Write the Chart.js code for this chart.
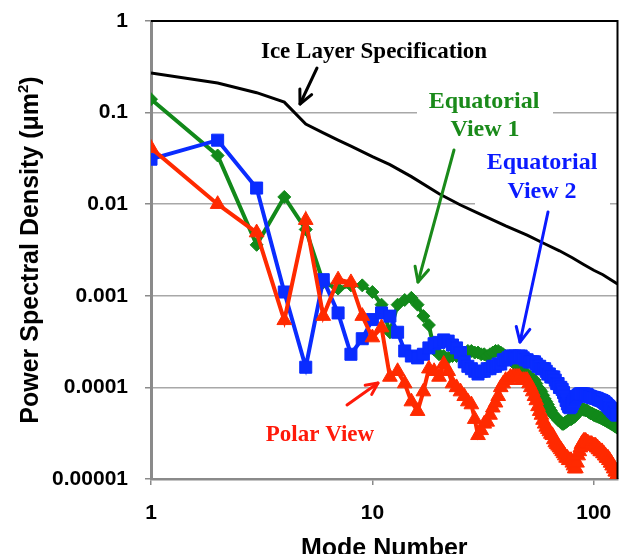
<!DOCTYPE html>
<html><head><meta charset="utf-8">
<script src="https://cdn.jsdelivr.net/npm/chart.js@4"></script>
<style>html,body{margin:0;padding:0;background:#fff}</style>
</head><body>
<canvas id="c" width="627" height="554"></canvas>
<script>
const modes = [1,2,3,4,5,6,7,8,9,10,11,12,13,14,15,16,17,18,19,20,21,22,23,24,25,26,27,28,29,30,31,32,33,34,35,36,37,38,39,40,41,42,43,44,45,46,47,48,49,50,51,52,53,54,55,56,57,58,59,60,61,62,63,64,65,66,67,68,69,70,71,72,73,74,75,76,77,78,79,80,81,82,83,84,85,86,87,88,89,90,91,92,93,94,95,96,97,98,99,100,101,102,103,104,105,106,107,108,109,110,111,112,113,114,115,116,117,118,119,120,121,122,123,124,125,126,127,128];

const equatorialView1 = [0.14,0.034,0.0036,0.012,0.0053,0.0014,0.0012,0.0013,0.0013,0.0011,
0.0008,0.0004,0.0008,0.0009,0.00095,0.0008,0.0006,0.00048,0.00026,0.00023,
0.00022,0.00021,0.00022,0.00022,0.00023,0.00024,0.00025,0.00025,0.00024,0.00024,
0.00023,0.00023,0.00022,0.00023,0.00024,0.00025,0.00025,0.00024,0.00023,0.00022,
0.00021,0.0002,0.00019,0.00018,0.00017,0.00016,0.00015,0.00015,0.00014,0.00014,
0.00013,0.00013,0.00012,0.00012,0.00011,0.0001,0.000095,0.00009,0.000082,0.000075,
0.00007,0.000065,0.00006,0.000056,0.000052,0.00005,0.000048,0.000046,0.000044,0.000043,
0.000042,0.00004,0.00004,0.000041,0.000042,0.000043,0.000044,0.000045,0.000045,0.000046,
0.000047,0.000048,0.00005,0.000052,0.000054,0.000056,0.000057,0.000058,0.000058,0.000057,
0.000057,0.000056,0.000056,0.000055,0.000054,0.000053,0.000052,0.000052,0.000051,0.00005,
0.00005,0.000049,0.000049,0.000048,0.000048,0.000047,0.000047,0.000046,0.000046,0.000045,
0.000045,0.000044,0.000044,0.000043,0.000043,0.000042,0.000042,0.000041,0.000041,0.00004,
0.00004,0.000039,0.000039,0.000038,0.000038,0.000037,0.000037,0.000036];

const equatorialView2 = [0.031,0.05,0.015,0.0011,0.000166,0.0015,0.00065,0.00023,0.00034,0.00055,
0.00065,0.0006,0.0004,0.00025,0.00022,0.00021,0.00023,0.00027,0.0003,0.00031,
0.00033,0.00032,0.00029,0.00027,0.00024,0.00019,0.00017,0.00016,0.00015,0.00014,
0.00015,0.00015,0.00016,0.00016,0.00017,0.00017,0.00018,0.00018,0.0002,0.0002,
0.00021,0.00022,0.00022,0.00022,0.00021,0.00022,0.00022,0.00021,0.0002,0.0002,
0.00019,0.00019,0.00019,0.00019,0.00018,0.00017,0.00017,0.00016,0.00016,0.00016,
0.00015,0.00014,0.00014,0.00013,0.00013,0.00013,0.00012,0.00011,0.00011,0.0001,
0.0001,0.000095,0.000088,0.00008,0.000072,0.000066,0.000062,0.00006,0.000062,0.000066,
0.00007,0.000074,0.000078,0.00008,0.000082,0.000084,0.000085,0.000085,0.000084,0.000085,
0.000084,0.000083,0.000084,0.000082,0.00008,0.00008,0.000079,0.000078,0.000078,0.000077,
0.000077,0.000076,0.000076,0.000075,0.000074,0.000073,0.000073,0.000072,0.000072,0.00007,
0.00007,0.000068,0.000067,0.000066,0.000064,0.000063,0.000062,0.00006,0.000059,0.000058,
0.000056,0.000055,0.000054,0.000053,0.000052,0.000051,0.00005,0.00005];

const polarView = [0.041,0.01,0.0049,0.00054,0.0067,0.0006,0.0015,0.0014,0.0006,0.00035,
0.00045,0.00013,0.00015,0.00011,0.00007,0.000055,0.00009,0.00016,0.00015,0.00013,
0.00018,0.00015,0.00011,0.0001,0.00009,0.00008,0.00007,0.000065,0.000045,0.00003,
0.000034,0.00004,0.000042,0.00005,0.00006,0.000068,0.00008,0.0001,0.00011,0.00012,
0.00012,0.00013,0.00013,0.00013,0.00013,0.00013,0.00012,0.00012,0.00012,0.00012,
0.00011,0.0001,0.00009,0.00008,0.000072,0.000062,0.000055,0.00005,0.000044,0.00004,
0.000037,0.000035,0.000033,0.000031,0.00003,0.000027,0.000025,0.000024,0.000023,0.000022,
0.000021,0.00002,0.000019,0.000018,0.000017,0.000017,0.000016,0.000016,0.000016,0.000015,
0.000014,0.000013,0.000013,0.000015,0.000018,0.00002,0.000022,0.000024,0.000025,0.000026,
0.000026,0.000026,0.000025,0.000025,0.000024,0.000024,0.000024,0.000024,0.000023,0.000023,
0.000023,0.000023,0.000022,0.000022,0.000021,0.000021,0.00002,0.00002,0.00002,0.000019,
0.000019,0.000018,0.000018,0.000017,0.000017,0.000017,0.000016,0.000016,0.000015,0.000015,
0.000014,0.000014,0.000013,0.000013,0.000012,0.000012,0.000011,0.000011];

const specModes  = [1,2,3,4,5,6,7,8,10,12,15,20,25,30,40,50,60,70,80,90,100,110,128];
const specValues = [0.27,0.21,0.165,0.13,0.075,0.06,0.05,0.043,0.033,0.027,0.02,0.013,0.0098,0.008,0.0058,0.0046,0.0037,0.0031,0.0026,0.0022,0.0019,0.0017,0.00135];

const xTickValues = [1,10,100];
const yTickValues = [1,0.1,0.01,0.001,0.0001,0.00001];
const yTickLabels = ['1','0.1','0.01','0.001','0.0001','0.00001'];

const GREEN = '#12891a', BLUE = '#0a2cff', RED = '#ff2a00';
const SANS = '"Liberation Sans", Arial, sans-serif';
const SERIF = '"Liberation Serif", "Times New Roman", serif';

const pts = (xs, ys) => xs.map((x, i) => ({x: x, y: ys[i]}));

function arrow(ctx, x1, y1, x2, y2, color, w, head) {
  const a = Math.atan2(y2 - y1, x2 - x1);
  ctx.save();
  ctx.strokeStyle = color; ctx.lineWidth = w; ctx.lineCap = 'round'; ctx.lineJoin = 'round';
  ctx.beginPath(); ctx.moveTo(x1, y1); ctx.lineTo(x2, y2); ctx.stroke();
  ctx.beginPath();
  ctx.moveTo(x2 - head * Math.cos(a - 0.45), y2 - head * Math.sin(a - 0.45));
  ctx.lineTo(x2, y2);
  ctx.lineTo(x2 - head * Math.cos(a + 0.45), y2 - head * Math.sin(a + 0.45));
  ctx.stroke();
  ctx.restore();
}

const decor = {
  id: 'decor',
  beforeDatasetsDraw(chart) {
    const ctx = chart.ctx;
    ctx.save();
    ctx.fillStyle = '#fff';
    ctx.fillRect(417, 88, 136, 55);
    ctx.fillRect(475, 149, 135, 57);
    ctx.restore();
  },
  afterDatasetsDraw(chart) {
    const ctx = chart.ctx, a = chart.chartArea;
    ctx.save();
    ctx.strokeStyle = '#000'; ctx.lineWidth = 2;
    ctx.beginPath(); ctx.moveTo(a.left, a.top); ctx.lineTo(a.right, a.top); ctx.lineTo(a.right, a.bottom); ctx.stroke();
    ctx.textAlign = 'center'; ctx.textBaseline = 'middle';
    ctx.font = 'bold 23px ' + SERIF;
    ctx.fillStyle = '#000';
    ctx.fillText('Ice Layer Specification', 374, 52);
    ctx.font = 'bold 24px ' + SERIF;
    ctx.fillStyle = '#1a8a1a';
    ctx.fillText('Equatorial', 484, 102);
    ctx.fillText('View 1', 485, 130);
    ctx.fillStyle = '#0a1aff';
    ctx.fillText('Equatorial', 542, 163);
    ctx.fillText('View 2', 542, 192);
    ctx.font = 'bold 23px ' + SERIF;
    ctx.fillStyle = '#ff1a0a';
    ctx.fillText('Polar View', 320, 435);
    arrow(ctx, 317, 68, 300, 104, '#000', 3, 15);
    arrow(ctx, 454, 150, 418, 282, '#1a8a1a', 3, 16);
    arrow(ctx, 548, 212, 520, 342, '#0a1aff', 3, 16);
    arrow(ctx, 347, 405, 378, 383, '#ff1a0a', 3, 13);
    ctx.fillStyle = '#000';
    ctx.font = 'bold 25px ' + SANS;
    ctx.textBaseline = 'alphabetic';
    ctx.fillText('Mode Number', (a.left + a.right) / 2, 556);
    ctx.translate(38, (a.top + a.bottom) / 2);
    ctx.rotate(-Math.PI / 2);
    const t1 = 'Power Spectral Density (\u03bcm', t2 = '2', t3 = ')';
    ctx.font = 'bold 25px ' + SANS;
    const w1 = ctx.measureText(t1).width, w3 = ctx.measureText(t3).width;
    ctx.font = 'bold 15px ' + SANS;
    const w2 = ctx.measureText(t2).width;
    const total = w1 + w2 + w3;
    ctx.textAlign = 'left';
    let x = -total / 2;
    ctx.font = 'bold 25px ' + SANS;
    ctx.fillText(t1, x, 0); x += w1;
    ctx.font = 'bold 15px ' + SANS;
    ctx.fillText(t2, x, -10); x += w2;
    ctx.font = 'bold 25px ' + SANS;
    ctx.fillText(t3, x, 0);
    ctx.restore();
  }
};

new Chart(document.getElementById('c'), {
  type: 'line',
  data: {
    datasets: [
      { label: 'Polar View', data: pts(modes, polarView), order: 0,
        borderColor: RED, backgroundColor: RED, borderWidth: 4,
        pointStyle: 'triangle', pointRadius: 8.5, pointBorderWidth: 1, pointBorderColor: RED, pointBackgroundColor: RED },
      { label: 'Equatorial View 2', data: pts(modes, equatorialView2), order: 1,
        borderColor: BLUE, backgroundColor: BLUE, borderWidth: 4,
        pointStyle: 'rect', pointRadius: 8.5, pointBorderWidth: 1, pointBorderColor: BLUE, pointBackgroundColor: BLUE },
      { label: 'Equatorial View 1', data: pts(modes, equatorialView1), order: 2,
        borderColor: GREEN, backgroundColor: GREEN, borderWidth: 4,
        pointStyle: 'rectRot', pointRadius: 6.5, pointBorderWidth: 1, pointBorderColor: GREEN, pointBackgroundColor: GREEN },
      { label: 'Ice Layer Specification', data: pts(specModes, specValues), order: 3,
        borderColor: '#000', borderWidth: 3, pointRadius: 0 }
    ]
  },
  options: {
    responsive: false,
    animation: false,
    devicePixelRatio: 1,
    layout: { padding: { left: 0, top: 21, right: 8, bottom: 0 } },
    plugins: { legend: { display: false }, tooltip: { enabled: false } },
    elements: { line: { tension: 0 } },
    scales: {
      x: {
        type: 'logarithmic', min: 1, max: 128, position: 'bottom',
        grid: { display: true, drawOnChartArea: false, drawTicks: true, tickLength: 6, tickColor: '#8a8a8a', lineWidth: 1.5 },
        border: { display: true, color: '#8a8a8a', width: 2.5 },
        ticks: { color: '#000', font: { family: SANS, weight: 'bold', size: 21 }, padding: 16, maxRotation: 0, autoSkip: false,
                 callback: (v) => String(v) },
        afterBuildTicks: (s) => { s.ticks = xTickValues.map(v => ({ value: v })); },
        afterFit: (s) => { s.height = 75; s.paddingLeft = 0; s.paddingRight = 0; }
      },
      y: {
        type: 'logarithmic', min: 0.00001, max: 1,
        grid: { color: '#a8a8a8', lineWidth: 1.5, drawTicks: true, tickLength: 6, tickColor: '#8a8a8a' },
        border: { display: true, color: '#8a8a8a', width: 3 },
        ticks: { color: '#000', font: { family: SANS, weight: 'bold', size: 21 }, padding: 17, autoSkip: false,
                 callback: (v, i) => yTickLabels[i] },
        afterBuildTicks: (s) => { s.ticks = yTickValues.map(v => ({ value: v })); },
        afterFit: (s) => { s.width = 151; s.paddingTop = 0; s.paddingBottom = 0; }
      }
    }
  },
  plugins: [decor]
});
</script>
</body></html>
